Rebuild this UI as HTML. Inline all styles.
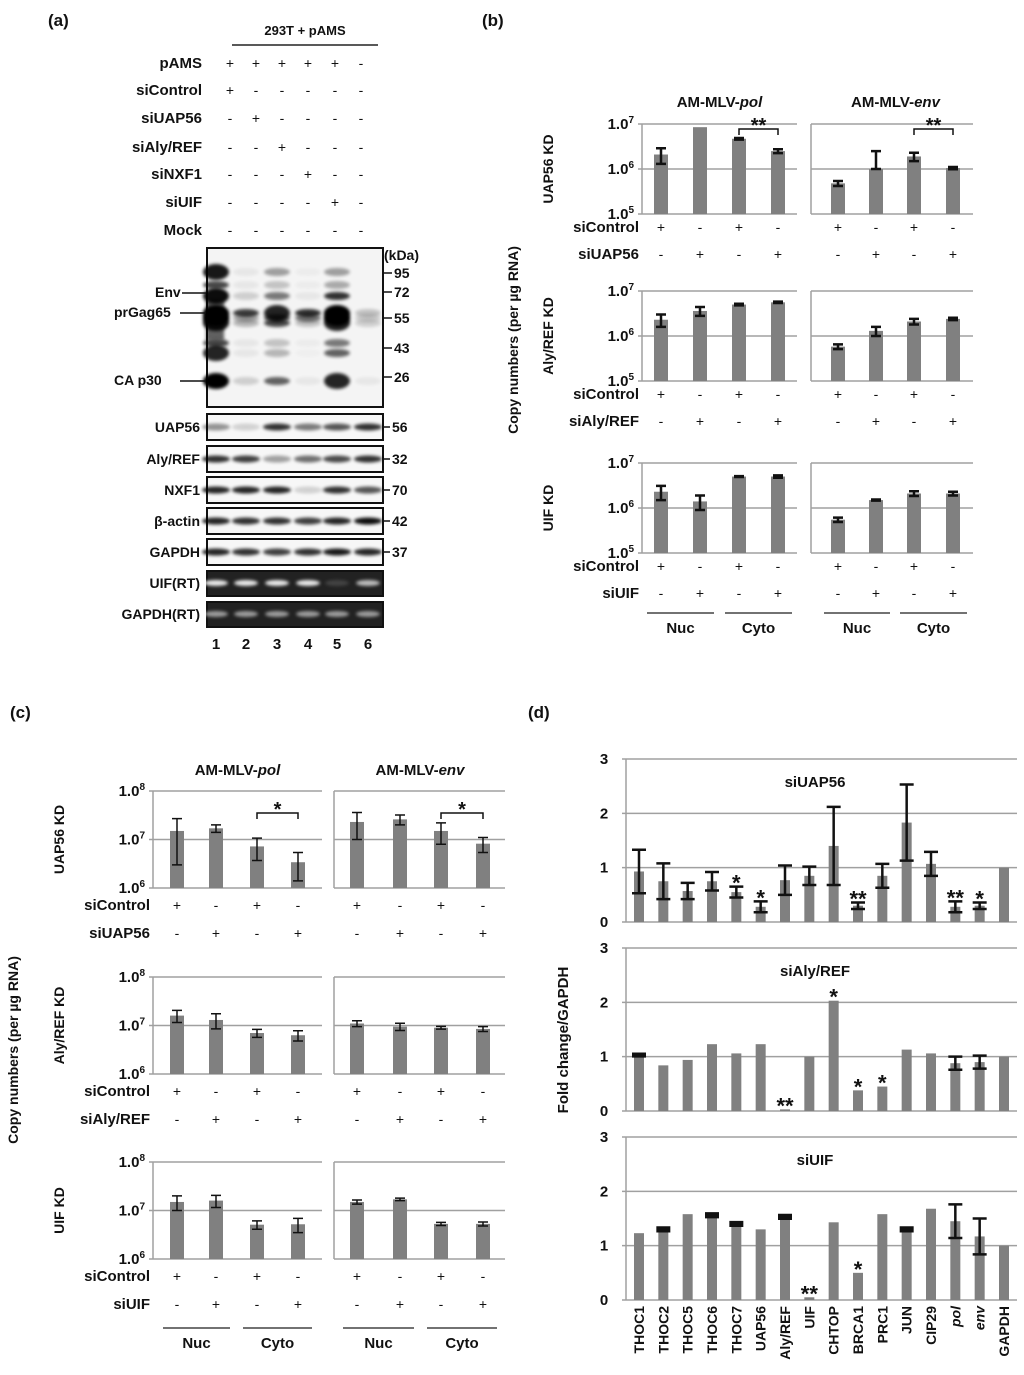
<!DOCTYPE html>
<html><head><meta charset="utf-8"><style>
body{margin:0;background:#fff}
svg{display:block;font-family:"Liberation Sans",sans-serif;font-weight:bold}
text{fill:#111}
</style></head><body>
<svg id="s" width="1024" height="1375" viewBox="0 0 1024 1375">
<defs><filter id="bl" x="-20%" y="-100%" width="140%" height="300%"><feGaussianBlur stdDeviation="1.6"/></filter></defs>
<g font-size="17"><text x="48" y="26">(a)</text>
<text x="482" y="26">(b)</text>
<text x="10" y="718">(c)</text>
<text x="528" y="718">(d)</text></g>
<g id="pa"></g>
<g id="pb"></g>
<g id="pc"></g>
<g id="pd"></g>
</svg>
<script>
const NS="http://www.w3.org/2000/svg";
function mk(p,t,a,txt){const e=document.createElementNS(NS,t);for(const k in a)e.setAttribute(k,a[k]);if(txt!==undefined)e.textContent=txt;p.appendChild(e);return e;}

// ---------- Panel (b) data ----------
const bRows=["UAP56 KD","Aly/REF KD","UIF KD"];
const bSi=["siUAP56","siAly/REF","siUIF"];
const bPolVals=[[2.1e6,8.5e6,4.7e6,2.5e6],[2.3e6,3.6e6,5.0e6,5.6e6],[2.3e6,1.4e6,5.0e6,5.0e6]];
const bPolErr=[[0.8e6,0,0.2e6,0.25e6],[0.7e6,0.8e6,0.2e6,0.2e6],[0.8e6,0.5e6,0.1e6,0.3e6]];
const bEnvVals=[[4.8e5,1.0e6,1.9e6,1.05e6],[5.8e5,1.3e6,2.1e6,2.4e6],[5.5e5,1.5e6,2.1e6,2.1e6]];
const bEnvErr=[[0.6e5,1.5e6,0.4e6,0.06e6],[0.7e5,0.3e6,0.3e6,0.15e6],[0.6e5,0.04e6,0.25e6,0.2e6]];
// ---------- Panel (c) data ----------
const cPolVals=[[1.5e7,1.7e7,7.2e6,3.4e6],[1.6e7,1.3e7,7.0e6,6.3e6],[1.5e7,1.6e7,5.1e6,5.2e6]];
const cPolErr=[[1.2e7,0.3e7,3.5e6,2.0e6],[0.45e7,0.45e7,1.3e6,1.5e6],[0.5e7,0.45e7,1.0e6,1.7e6]];
const cEnvVals=[[2.3e7,2.6e7,1.5e7,8.2e6],[1.1e7,9.5e6,9.0e6,8.5e6],[1.5e7,1.7e7,5.3e6,5.3e6]];
const cEnvErr=[[1.3e7,0.6e7,0.7e7,2.8e6],[0.15e7,1.6e6,0.6e6,1.0e6],[0.15e7,0.1e7,0.4e6,0.5e6]];
// ---------- Panel (d) data ----------
const dGenes=["THOC1","THOC2","THOC5","THOC6","THOC7","UAP56","Aly/REF","UIF","CHTOP","BRCA1","PRC1","JUN","CIP29","pol","env","GAPDH"];
const dTitles=["siUAP56","siAly/REF","siUIF"];
const dUAP=[0.93,0.75,0.57,0.75,0.55,0.28,0.77,0.85,1.4,0.3,0.85,1.83,1.07,0.28,0.3,1.0];
const dUAPErr=[0.4,0.33,0.15,0.17,0.1,0.1,0.27,0.17,0.72,0.06,0.22,0.7,0.22,0.1,0.06,0];
const dAly=[1.03,0.84,0.94,1.23,1.06,1.23,0.03,1.0,2.03,0.38,0.45,1.13,1.06,0.88,0.9,1.0];
const dAlyErr=[0.01,0,0,0,0,0,0,0,0,0,0,0,0,0.12,0.12,0];
const dUIF=[1.23,1.3,1.58,1.56,1.4,1.3,1.53,0.05,1.43,0.5,1.58,1.3,1.68,1.45,1.17,1.0];
const dUIFErr=[0,0.02,0,0.02,0.02,0,0.02,0,0,0,0,0.02,0,0.31,0.33,0];
const dStarsUAP=["","","","","*","*","","","","**","","","","**","*",""];
const dStarsAly=["","","","","","","**","","*","*","*","","","","",""];
const dStarsUIF=["","","","","","","","**","","*","","","","","",""];

const G="#808080",GR="#a0a0a0";

// ---------- Panel (a): blot ----------
(function(){
 const g=document.getElementById('pa');
 const lanes=[216,246,277,308,337,368];
 const t=mk(g,'text',{x:305,y:35,'font-size':13,'text-anchor':'middle'},'293T + pAMS');
 
 mk(g,'line',{x1:232,y1:45,x2:378,y2:45,stroke:'#222','stroke-width':1.5});
 const rows=["pAMS","siControl","siUAP56","siAly/REF","siNXF1","siUIF","Mock"];
 const ry=[68,95,123,152,179,207,235];
 const signs=[["+","+","+","+","+","-"],["+","-","-","-","-","-"],["-","+","-","-","-","-"],["-","-","+","-","-","-"],["-","-","-","+","-","-"],["-","-","-","-","+","-"],["-","-","-","-","-","-"]];
 const sx=[230,256,282,308,335,361];
 rows.forEach((r,i)=>{
  const l=mk(g,'text',{x:202,y:ry[i],'font-size':15,'text-anchor':'end'},r);
  
  signs[i].forEach((s,j)=>mk(g,'text',{x:sx[j],y:ry[i],'font-size':14,'text-anchor':'middle','font-weight':'normal'},s));
 });
 mk(g,'rect',{x:207,y:248,width:176,height:159,fill:'#f4f4f4',stroke:'#111','stroke-width':2});
 const bandsMain=[
  [272,[0.9,0.05,0.35,0.03,0.35,0]],[285,[0.7,0.05,0.2,0.03,0.3,0]],[296,[0.95,0.15,0.5,0.05,0.8,0]],[313,[1,0.75,0.85,0.8,1,0.2]],[318,[1,0.3,0.6,0.5,1,0.15]],[323,[0.9,0.25,0.7,0.2,0.85,0.15]],
  [343,[0.7,0.05,0.2,0.03,0.5,0]],[353,[0.85,0.05,0.25,0.02,0.6,0]],[381,[1,0.15,0.6,0.05,0.85,0.05]]];
 bandsMain.forEach(b=>b[1].forEach((v,j)=>{if(v>0)mk(g,'ellipse',{cx:lanes[j],cy:b[0],rx:13,ry:v>0.8?8:4,fill:'#000',opacity:v,filter:'url(#bl)'});}));
 mk(g,'rect',{x:206,y:300,width:18,height:40,fill:'#000',opacity:0.6,filter:'url(#bl)'});
 const mw=[["(kDa)",260],["95",278],["72",297],["55",323],["43",353],["26",382]];
 mw.forEach(m=>{if(m[0]!=="(kDa)")mk(g,'line',{x1:383,y1:m[1]-5,x2:392,y2:m[1]-5,stroke:'#111','stroke-width':1.5});
  mk(g,'text',{x:m[0]==="(kDa)"?384:394,y:m[1],'font-size':14},m[0]);});
 [["Env",297,293],["prGag65",317,313],["CA p30",385,381]].forEach(a=>{
  mk(g,'text',{x:a[0]==="Env"?155:114,y:a[1],'font-size':14},a[0]);
  mk(g,'line',{x1:a[0]==="Env"?182:180,y1:a[2],x2:206,y2:a[2],stroke:'#111','stroke-width':1.5});});
 const small=[["UAP56",414,"56",[0.4,0.15,0.8,0.5,0.65,0.8]],["Aly/REF",446,"32",[0.8,0.75,0.35,0.55,0.7,0.8]],["NXF1",477,"70",[0.85,0.85,0.85,0.15,0.8,0.65]],
  ["β-actin",508,"42",[0.85,0.8,0.8,0.75,0.85,0.95]],["GAPDH",539,"37",[0.85,0.8,0.75,0.8,0.9,0.85]]];
 small.forEach(s=>{
  mk(g,'rect',{x:207,y:s[1],width:176,height:26,fill:'#f7f7f7',stroke:'#111','stroke-width':2});
  s[3].forEach((v,j)=>mk(g,'ellipse',{cx:lanes[j],cy:s[1]+13,rx:14,ry:3.5,fill:'#000',opacity:v,filter:'url(#bl)'}));
  const l=mk(g,'text',{x:200,y:s[1]+18,'font-size':14,'text-anchor':'end'},s[0]);
  
  mk(g,'line',{x1:383,y1:s[1]+13,x2:390,y2:s[1]+13,stroke:'#111','stroke-width':1.5});
  mk(g,'text',{x:392,y:s[1]+18,'font-size':14},s[2]);
 });
 [["UIF(RT)",571,[0.9,0.9,0.9,0.9,0.15,0.7]],["GAPDH(RT)",602,[0.55,0.55,0.55,0.55,0.55,0.55]]].forEach(s=>{
  mk(g,'rect',{x:207,y:s[1],width:176,height:25,fill:'#222',stroke:'#111','stroke-width':2});
  s[2].forEach((v,j)=>mk(g,'ellipse',{cx:lanes[j],cy:s[1]+12,rx:12,ry:3,fill:'#fff',opacity:v,filter:'url(#bl)'}));
  mk(g,'text',{x:200,y:s[1]+17,'font-size':14,'text-anchor':'end'},s[0]);
 });
 lanes.forEach((x,i)=>mk(g,'text',{x:x,y:649,'font-size':15,'text-anchor':'middle'},String(i+1)));
})();

// ---------- generic log panel ----------
function logPanel(g,cfg){
 cfg.rowTop.forEach((top,r)=>{
  const bot=top+cfg.h;
  const yv=v=>bot-(Math.log10(v)-cfg.lmin)/(cfg.lmax-cfg.lmin)*cfg.h;
  [[cfg.polAx,cfg.polX,cfg.pol[r],cfg.polE[r]],[cfg.envAx,cfg.envX,cfg.env[r],cfg.envE[r]]].forEach((p,pi)=>{
   for(let k=cfg.lmin;k<=cfg.lmax;k++){const y=yv(Math.pow(10,k));mk(g,'line',{x1:p[0][0]-(pi==0?4:0),y1:y,x2:p[0][1],y2:y,stroke:GR,'stroke-width':1.5});}
   mk(g,'line',{x1:p[0][0],y1:top,x2:p[0][0],y2:bot,stroke:GR,'stroke-width':1.5});
   p[2].forEach((v,i)=>{
    const b=mk(g,'rect',{x:p[1][i]-7,y:yv(v),width:14,height:bot-yv(v),fill:G});
    
    const e=p[3][i];if(e>0){const y1=yv(v+e),y2=v-e>0?yv(v-e):yv(v);
     mk(g,'path',{d:`M${p[1][i]} ${y1}V${y2}M${p[1][i]-5} ${y1}h10M${p[1][i]-5} ${y2}h10`,stroke:'#111','stroke-width':cfg.ew,fill:'none'});}
   });
   if(r==0&&cfg.sig){const s=cfg.sig,x1=p[1][2],x2=p[1][3],y=top+s.dy;
    mk(g,'path',{d:`M${x1} ${y+6}V${y}H${x2}V${y+6}`,stroke:'#111','stroke-width':1.5,fill:'none'});
    mk(g,'text',{x:(x1+x2)/2,y:y+3,'font-size':20,'text-anchor':'middle'},s.t);}
   for(let k=cfg.lmin;k<=cfg.lmax;k++){if(pi==1)continue;
    const t=mk(g,'text',{x:p[0][0]-8,y:yv(Math.pow(10,k))+5,'font-size':15,'text-anchor':'end'},'1.0');
    mk(t,'tspan',{dy:-6,'font-size':10},String(k));}
  });
  const rl=mk(g,'text',{transform:`translate(${cfg.rowLabX},${top+cfg.h/2}) rotate(-90)`,'font-size':14,'text-anchor':'middle'},cfg.rows[r]);
  
  const sy=[bot+cfg.s1,bot+cfg.s2];
  [["siControl",["+","-","+","-"]],[cfg.si[r],["-","+","-","+"]]].forEach((q,qi)=>{
   mk(g,'text',{x:cfg.polAx[0]-3,y:sy[qi],'font-size':15,'text-anchor':'end'},q[0]);
   [...cfg.polX,...cfg.envX].forEach((x,i)=>mk(g,'text',{x:x,y:sy[qi],'font-size':14,'text-anchor':'middle','font-weight':'normal'},q[1][i%4]));
  });
 });
 [[cfg.polX,cfg.titleY,"AM-MLV-","pol"],[cfg.envX,cfg.titleY,"AM-MLV-","env"]].forEach(a=>{
  const t=mk(g,'text',{x:(a[0][0]+a[0][3])/2,y:a[1],'font-size':15,'text-anchor':'middle'},a[2]);
  mk(t,'tspan',{'font-style':'italic'},a[3]);
 });
 [cfg.polX,cfg.envX].forEach(X=>{
  [[X[0],X[1],"Nuc"],[X[2],X[3],"Cyto"]].forEach(a=>{
   mk(g,'line',{x1:a[0]-14,y1:cfg.lineY,x2:a[1]+14,y2:cfg.lineY,stroke:'#444','stroke-width':1.5});
   mk(g,'text',{x:(a[0]+a[1])/2,y:cfg.lineY+20,'font-size':15,'text-anchor':'middle'},a[2]);});
 });
 const yl=mk(g,'text',{transform:`translate(${cfg.yLabX},${cfg.yLabY}) rotate(-90)`,'font-size':14,'text-anchor':'middle'},'Copy numbers (per µg RNA)');
 
}
logPanel(document.getElementById('pb'),{rowTop:[124,291,463],h:90,lmin:5,lmax:7,polAx:[642,797],envAx:[811,973],
 polX:[661,700,739,778],envX:[838,876,914,953],pol:bPolVals,polE:bPolErr,env:bEnvVals,envE:bEnvErr,ew:2.5,
 sig:{dy:5,t:"**"},rows:bRows,si:bSi,rowLabX:553,s1:18,s2:45,titleY:107,lineY:613,yLabX:518,yLabY:340});
logPanel(document.getElementById('pc'),{rowTop:[791,977,1162],h:97,lmin:6,lmax:8,polAx:[153,322],envAx:[334,505],
 polX:[177,216,257,298],envX:[357,400,441,483],pol:cPolVals,polE:cPolErr,env:cEnvVals,envE:cEnvErr,ew:1.5,
 sig:{dy:22,t:"*"},rows:bRows,si:bSi,rowLabX:64,s1:22,s2:50,titleY:775,lineY:1328,yLabX:18,yLabY:1050});

// ---------- Panel (d) ----------
(function(){
 const g=document.getElementById('pd');
 const tops=[759,948,1137],h=163,x0=626,x1=1017;
 const xc=i=>639+i*(1004-639)/(dGenes.length-1);
 const sets=[[dUAP,dUAPErr,dStarsUAP],[dAly,dAlyErr,dStarsAly],[dUIF,dUIFErr,dStarsUIF]];
 sets.forEach((s,p)=>{
  const bot=tops[p]+h,yv=v=>bot-v/3*h;
  for(let k=0;k<=3;k++){mk(g,'line',{x1:x0-4,y1:yv(k),x2:x1,y2:yv(k),stroke:GR,'stroke-width':1.5});
   mk(g,'text',{x:x0-22,y:yv(k)+5,'font-size':15,'text-anchor':'middle'},String(k));}
  mk(g,'line',{x1:x0,y1:tops[p],x2:x0,y2:bot,stroke:GR,'stroke-width':1.5});
  mk(g,'text',{x:815,y:tops[p]+28,'font-size':15,'text-anchor':'middle'},dTitles[p]);
  s[0].forEach((v,i)=>{
   const b=mk(g,'rect',{x:xc(i)-5,y:yv(v),width:10,height:bot-yv(v),fill:G});
   
   const e=s[1][i];let top=yv(v);
   if(e>0){const a=yv(v+e),c=yv(v-e);top=a;
    mk(g,'path',{d:`M${xc(i)} ${a}V${c}M${xc(i)-7} ${a}h14M${xc(i)-7} ${c}h14`,stroke:'#111','stroke-width':e<0.03?4:2.5,fill:'none'});}
   if(s[2][i])mk(g,'text',{x:xc(i),y:top+4,'font-size':22,'text-anchor':'middle'},s[2][i]);
  });
 });
 dGenes.forEach((n,i)=>{
  const t=mk(g,'text',{transform:`translate(${xc(i)+5},1306) rotate(-90)`,'font-size':14,'text-anchor':'end'},n);
  if(n=="pol"||n=="env")t.setAttribute('font-style','italic');
  
 });
 const yl=mk(g,'text',{transform:'translate(568,1040) rotate(-90)','font-size':15,'text-anchor':'middle'},'Fold change/GAPDH');
 
})();
</script>
</body></html>
